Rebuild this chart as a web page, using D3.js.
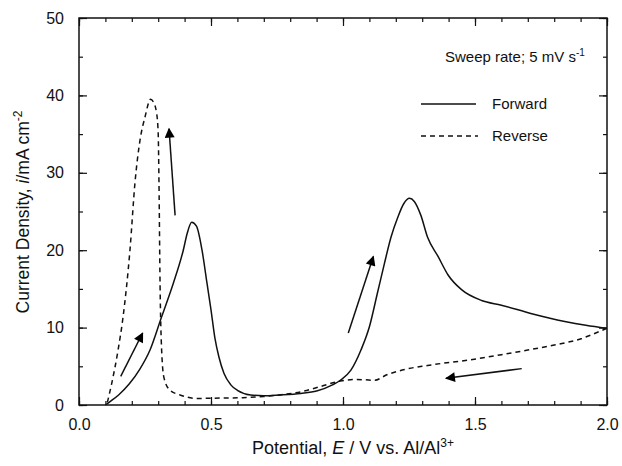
<!DOCTYPE html>
<html>
<head>
<meta charset="utf-8">
<script src="https://cdn.jsdelivr.net/npm/d3@7"></script>
<style>
  body { margin: 0; background: #fff; }
  text { font-family: "Liberation Sans", Arial, sans-serif; fill: #111; }
</style>
</head>
<body>
<div id="chart"></div>
<script>
// data
var forwardE = [0.10, 0.12, 0.15, 0.19, 0.23, 0.269, 0.313, 0.357, 0.395, 0.41, 0.427, 0.445, 0.466, 0.485, 0.50, 0.515, 0.53, 0.549, 0.575, 0.60, 0.65, 0.70, 0.76, 0.84, 0.90, 0.96, 0.99, 1.03, 1.068, 1.10, 1.13, 1.157, 1.182, 1.208, 1.23, 1.252, 1.27, 1.295, 1.32, 1.36, 1.398, 1.449, 1.525, 1.60, 1.715, 1.84, 1.92, 2.0];
var forwardI = [0, 0.5, 1.3, 2.7, 4.6, 7.1, 11.4, 15.7, 20, 22.2, 23.6, 23.1, 20, 15.7, 12.3, 8.6, 6.2, 4.1, 2.6, 1.9, 1.3, 1.2, 1.3, 1.5, 1.8, 2.6, 3.2, 4.5, 7.1, 10.1, 14.4, 18.3, 21.7, 24.3, 26, 26.7, 26.3, 24.5, 21.7, 19.2, 16.8, 14.9, 13.5, 12.9, 11.8, 10.8, 10.3, 9.9];

var reverseE = [2.0, 1.95, 1.905, 1.80, 1.70, 1.60, 1.475, 1.38, 1.32, 1.241, 1.166, 1.12, 1.05, 0.99, 0.916, 0.84, 0.76, 0.70, 0.62, 0.549, 0.446, 0.383, 0.345, 0.322, 0.313, 0.307, 0.303, 0.30, 0.294, 0.281, 0.271, 0.25, 0.231, 0.212, 0.193, 0.167, 0.148, 0.124, 0.105];
var reverseI = [9.9, 9.2, 8.6, 7.75, 7.1, 6.5, 5.8, 5.4, 5.1, 4.65, 3.9, 3.2, 3.3, 3.1, 2.4, 1.7, 1.3, 1.1, 0.95, 0.9, 0.85, 1.3, 1.9, 3.5, 7.1, 15.7, 28.6, 35.1, 37.7, 39.2, 39.5, 37.2, 34.2, 28.7, 20, 11.4, 7.1, 2.8, 0];

// arrows: [E0, i0, E1, i1], head at the second point
var arrows = [
    [0.158, 3.7, 0.241, 9.3],
    [0.364, 24.5, 0.341, 35.7],
    [1.020, 9.3, 1.115, 19.2],
    [1.677, 4.7, 1.39, 3.45]
];

var xTicks = [0, 0.5, 1.0, 1.5, 2.0];
var yTicks = [0, 10, 20, 30, 40, 50];

var svgWidth = 622;
var svgHeight = 466;

var margin = { top: 18, right: 15, bottom: 61, left: 79 };
var width = svgWidth - margin.left - margin.right;
var height = svgHeight - margin.top - margin.bottom;

var svg = d3.select("#chart")
    .append("svg")
    .attr("width", svgWidth)
    .attr("height", svgHeight);

svg.append("defs").append("marker")
    .attr("id", "head")
    .attr("viewBox", "0 0 10 10")
    .attr("refX", 9)
    .attr("refY", 5)
    .attr("markerUnits", "userSpaceOnUse")
    .attr("markerWidth", 13)
    .attr("markerHeight", 10)
    .attr("orient", "auto")
    .append("path")
    .attr("d", "M0,0 L10,5 L0,10 Z")
    .attr("fill", "#000");

var chartGroup = svg.append("g")
    .attr("transform", `translate(${margin.left}, ${margin.top})`);

var xScale = d3.scaleLinear().domain([0, 2]).range([0, width]);
var yScale = d3.scaleLinear().domain([0, 50]).range([height, 0]);

// axes, ticks inside on all four sides
function styleAxis(g) {
    g.select(".domain").remove();
    g.selectAll("line").attr("stroke", "#111").attr("stroke-width", 1.2);
    g.selectAll("text").style("font-size", "16px").attr("fill", "#111");
}

var xMinor = d3.range(0, 21).map(d => d / 10);
var yMinor = d3.range(0, 11).map(d => d * 5);

chartGroup.append("g")
    .attr("transform", `translate(0, ${height})`)
    .call(d3.axisBottom(xScale).tickValues(xMinor).tickSize(-4).tickFormat(""))
    .call(styleAxis);
chartGroup.append("g")
    .attr("transform", `translate(0, ${height})`)
    .call(d3.axisBottom(xScale).tickValues(xTicks).tickSize(-8).tickPadding(14).tickFormat(d3.format(".1f")))
    .call(styleAxis);
chartGroup.append("g")
    .call(d3.axisTop(xScale).tickValues(xMinor).tickSize(-4).tickFormat(""))
    .call(styleAxis);
chartGroup.append("g")
    .call(d3.axisTop(xScale).tickValues(xTicks).tickSize(-8).tickFormat(""))
    .call(styleAxis);

chartGroup.append("g")
    .call(d3.axisLeft(yScale).tickValues(yMinor).tickSize(-4).tickFormat(""))
    .call(styleAxis);
chartGroup.append("g")
    .call(d3.axisLeft(yScale).tickValues(yTicks).tickSize(-8).tickPadding(15))
    .call(styleAxis);
chartGroup.append("g")
    .attr("transform", `translate(${width}, 0)`)
    .call(d3.axisRight(yScale).tickValues(yMinor).tickSize(-4).tickFormat(""))
    .call(styleAxis);
chartGroup.append("g")
    .attr("transform", `translate(${width}, 0)`)
    .call(d3.axisRight(yScale).tickValues(yTicks).tickSize(-8).tickFormat(""))
    .call(styleAxis);

chartGroup.append("rect")
    .attr("width", width)
    .attr("height", height)
    .attr("fill", "none")
    .attr("stroke", "#111")
    .attr("stroke-width", 1.5);

// curves
var line = d3.line()
    .x(d => xScale(d[0]))
    .y(d => yScale(d[1]))
    .curve(d3.curveMonotoneX);

var forward = forwardE.map((e, k) => [e, forwardI[k]]);
var reverse = reverseE.map((e, k) => [e, reverseI[k]]);

chartGroup.append("path")
    .datum(reverse)
    .attr("d", line)
    .attr("fill", "none")
    .attr("stroke", "#111")
    .attr("stroke-width", 1.5)
    .attr("stroke-dasharray", "5,4");

chartGroup.append("path")
    .datum(forward)
    .attr("d", line)
    .attr("fill", "none")
    .attr("stroke", "#111")
    .attr("stroke-width", 1.5);

chartGroup.selectAll(".arrow")
    .data(arrows)
    .enter()
    .append("line")
    .attr("class", "arrow")
    .attr("x1", d => xScale(d[0]))
    .attr("y1", d => yScale(d[1]))
    .attr("x2", d => xScale(d[2]))
    .attr("y2", d => yScale(d[3]))
    .attr("stroke", "#111")
    .attr("stroke-width", 1.5)
    .attr("marker-end", "url(#head)");

// legend
var sweep = svg.append("text")
    .attr("x", 445)
    .attr("y", 62)
    .style("font-size", "15px");
sweep.append("tspan").text("Sweep rate; 5 mV s");
sweep.append("tspan").attr("dy", -6).style("font-size", "10px").text("-1");

svg.append("line")
    .attr("x1", 421).attr("x2", 476)
    .attr("y1", 104).attr("y2", 104)
    .attr("stroke", "#111").attr("stroke-width", 1.5);
svg.append("text").attr("x", 492).attr("y", 109).style("font-size", "15px").text("Forward");

svg.append("line")
    .attr("x1", 421).attr("x2", 478)
    .attr("y1", 136).attr("y2", 136)
    .attr("stroke", "#111").attr("stroke-width", 1.5)
    .attr("stroke-dasharray", "5,4");
svg.append("text").attr("x", 492).attr("y", 141).style("font-size", "15px").text("Reverse");

// axis titles
var xTitle = svg.append("text")
    .attr("x", 353)
    .attr("y", 454)
    .attr("text-anchor", "middle")
    .style("font-size", "18px");
xTitle.append("tspan").text("Potential, ");
xTitle.append("tspan").style("font-style", "italic").text("E");
xTitle.append("tspan").text(" / V vs. Al/Al");
xTitle.append("tspan").attr("dy", -7).style("font-size", "12px").text("3+");

var yTitle = svg.append("text")
    .attr("transform", `translate(29, 212) rotate(-90)`)
    .attr("text-anchor", "middle")
    .style("font-size", "17.5px");
yTitle.append("tspan").text("Current Density, ");
yTitle.append("tspan").style("font-style", "italic").text("i");
yTitle.append("tspan").text("/mA cm");
yTitle.append("tspan").attr("dy", -7).style("font-size", "12px").text("-2");
</script>
</body>
</html>
